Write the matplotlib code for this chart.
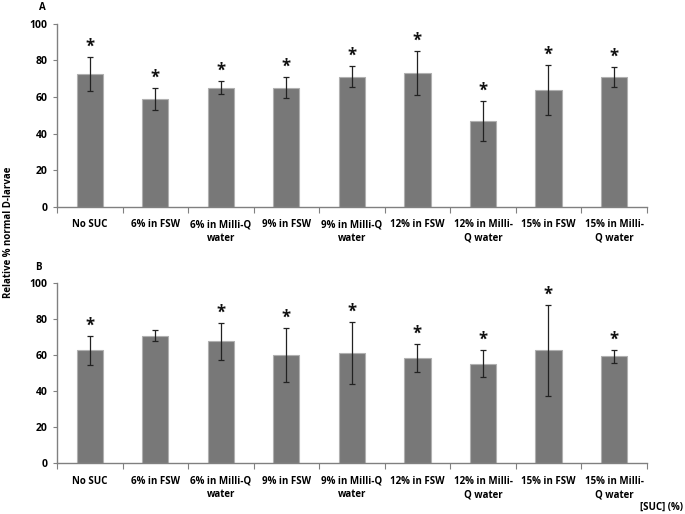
import numpy as np
import matplotlib
matplotlib.use("Agg")
import matplotlib.pyplot as plt

# categories along x
categories = ["No SUC", "6% in FSW", "6% in Milli-Q\nwater", "9% in FSW",
              "9% in Milli-Q\nwater", "12% in FSW", "12% in Milli-\nQ water",
              "15% in FSW", "15% in Milli-\nQ water"]

# panel A: mean and error
mean_a = [72.7, 58.9, 65.1, 65.1, 71.1, 73.3, 46.9, 63.9, 70.8]
err_a = [9.3, 5.9, 3.7, 5.8, 5.7, 12.1, 10.8, 13.7, 5.5]
sig_a = [True, True, True, True, True, True, True, True, True]

# panel B: mean and error
mean_b = [62.5, 70.7, 67.5, 60.0, 60.9, 58.3, 55.2, 62.5, 59.2]
err_b = [8.2, 2.9, 10.3, 15.0, 17.2, 7.5, 7.3, 25.0, 3.5]
sig_b = [True, False, True, True, True, True, True, True, True]

plt.rcParams['font.family'] = ['Open Sans', 'DejaVu Sans']
plt.rcParams['font.weight'] = 'bold'

fig = plt.figure(figsize=(6.85, 5.14), dpi=100)
ax_a = fig.add_axes([0.0832, 0.598, 0.861, 0.3554])
ax_b = fig.add_axes([0.0832, 0.0986, 0.861, 0.3514])


def draw_panel(ax, means, errs, sig):
    x = np.arange(len(categories))
    ax.bar(x, means, width=0.4, color='#787878', edgecolor='#b0b0b0',
           linewidth=0.8, zorder=2)
    ax.errorbar(x, means, yerr=errs, fmt='none', ecolor='#222222',
                elinewidth=0.9, capsize=2.2, capthick=0.9, zorder=3)
    # significance stars
    for xi, m, e, s in zip(x, means, errs, sig):
        if s:
            ax.annotate('*', (xi, m + e), xytext=(0, 1), textcoords='offset points',
                        ha='center', va='bottom', fontsize=12, fontweight='bold',
                        color='#111111')
    ax.set_xlim(-0.5, len(categories) - 0.5)
    ax.set_ylim(0, 100)
    ax.set_yticks([0, 20, 40, 60, 80, 100])
    ax.set_xticks(np.arange(len(categories) + 1) - 0.5)
    ax.set_xticklabels([])
    ax.set_xticks(x, minor=True)
    ax.set_xticklabels(categories, minor=True, fontsize=7, fontweight='bold',
                       linespacing=1.3)
    ax.tick_params(axis='x', which='minor', length=0, pad=9)
    ax.tick_params(axis='x', which='major', length=4, color='#808080')
    ax.tick_params(axis='y', length=3, color='#808080', labelsize=7.5, pad=4)
    for side in ['top', 'right']:
        ax.spines[side].set_visible(False)
    for side in ['left', 'bottom']:
        ax.spines[side].set_color('#808080')
        ax.spines[side].set_linewidth(1)
    for lab in ax.get_yticklabels():
        lab.set_fontweight('bold')


draw_panel(ax_a, mean_a, err_a, sig_a)
draw_panel(ax_b, mean_b, err_b, sig_b)

fig.text(42 / 685, 1 - 8 / 514, 'A', fontsize=7, fontweight='bold', ha='center', va='center')
fig.text(38 / 685, 1 - 267 / 514, 'B', fontsize=7, fontweight='bold', ha='center', va='center')
fig.text(9 / 685, 1 - 232 / 514, 'Relative % normal D-larvae', rotation=90,
         fontsize=7, fontweight='bold', ha='center', va='center')
fig.text(683 / 685, 1 - 507 / 514, '[SUC] (%)', fontsize=7, fontweight='bold',
         ha='right', va='center')

fig.savefig('out.png', dpi=100)
